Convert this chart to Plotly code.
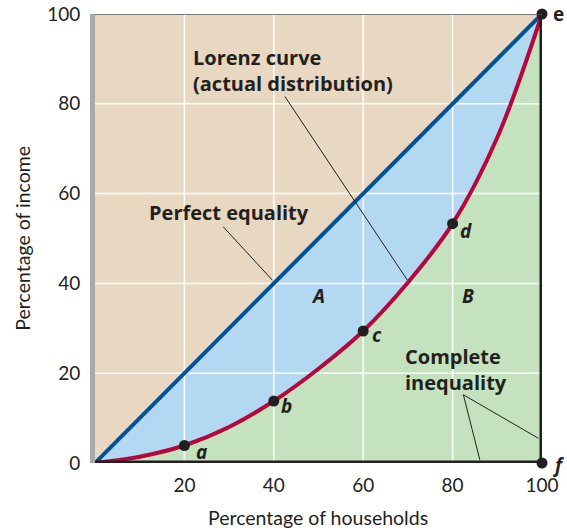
import plotly.graph_objects as go

# ---- data ----
lorenz_x = [0, 10, 20, 30, 40, 50, 60, 70, 80, 90, 100]
lorenz_y = [0, 1.4, 3.9, 8.0, 13.8, 21.0, 29.4, 40.2, 53.3, 72.5, 100]
equality_x = [0, 100]
equality_y = [0, 100]
inequality_x = [0, 100, 100]
inequality_y = [0, 0, 100]
point_x = [20, 40, 60, 80, 100, 100]
point_y = [3.9, 13.8, 29.4, 53.3, 100, 0]
point_labels = ["<b><i>a</i></b>", "<b><i>b</i></b>", "<b><i>c</i></b>", "<b><i>d</i></b>", "<b>e</b>", "<b><i>f</i></b>"]
tick_vals_x = [20, 40, 60, 80, 100]
tick_vals_y = [0, 20, 40, 60, 80, 100]
grid_vals = [20, 40, 60, 80]

TAN = "#e8d7c1"
BLUE_FILL = "#b3d8f1"
GREEN_FILL = "#c5e2bf"
BLUE_LINE = "#00529b"
RED_LINE = "#b5063d"
INK = "#231f20"
FONT = "Lato"
BOLD_FONT = "Open Sans"

fig = go.Figure()

# green area under Lorenz curve
fig.add_trace(go.Scatter(x=lorenz_x, y=lorenz_y, mode="lines", line=dict(width=0, shape="spline"),
                         fill="tozeroy", fillcolor=GREEN_FILL, hoverinfo="skip", showlegend=False))
# diagonal (invisible) then blue fill between it and the curve
fig.add_trace(go.Scatter(x=equality_x, y=equality_y, mode="lines", line=dict(width=0),
                         hoverinfo="skip", showlegend=False))
fig.add_trace(go.Scatter(x=lorenz_x, y=lorenz_y, mode="lines", line=dict(width=0, shape="spline"),
                         fill="tonexty", fillcolor=BLUE_FILL, hoverinfo="skip", showlegend=False))

# grid lines above fills, below lines
gx, gy = [], []
for v in grid_vals:
    gx += [v, v, None]
    gy += [0, 100, None]
for v in grid_vals:
    gx += [0, 100, None]
    gy += [v, v, None]
fig.add_trace(go.Scatter(x=gx, y=gy, mode="lines", line=dict(color="white", width=1.5),
                         hoverinfo="skip", showlegend=False))

# lines
fig.add_trace(go.Scatter(x=equality_x, y=equality_y, mode="lines", line=dict(color=BLUE_LINE, width=4),
                         showlegend=False, cliponaxis=False))
fig.add_trace(go.Scatter(x=lorenz_x, y=lorenz_y, mode="lines", line=dict(color=RED_LINE, width=4, shape="spline"),
                         showlegend=False, cliponaxis=False))
fig.add_trace(go.Scatter(x=inequality_x, y=inequality_y, mode="lines", line=dict(color=INK, width=5),
                         showlegend=False, cliponaxis=False))
fig.add_trace(go.Scatter(x=point_x, y=point_y, mode="markers", marker=dict(color=INK, size=11),
                         showlegend=False, cliponaxis=False))

annotations = []
label_shifts = [(17, -7), (13, -5), (14, -4), (13, -7), (16, 0), (16, -2)]
for px, py, lab, (dx, dy) in zip(point_x, point_y, point_labels, label_shifts):
    annotations.append(dict(x=px, y=py, text=lab, showarrow=False, xshift=dx, yshift=dy,
                            font=dict(family=BOLD_FONT, size=19, color=INK)))

lab_font = dict(family=BOLD_FONT, size=20, color=INK)
annotations += [
    dict(x=21.5, y=87.4, text="<b>Lorenz curve<br>(actual distribution)</b>", showarrow=False,
         xanchor="left", yanchor="middle", align="left", font=lab_font),
    dict(x=11.7, y=55.9, text="<b>Perfect equality</b>", showarrow=False,
         xanchor="left", yanchor="middle", align="left", font=lab_font),
    dict(x=69.0, y=20.8, text="<b>Complete<br>inequality</b>", showarrow=False,
         xanchor="left", yanchor="middle", align="left", font=lab_font),
    dict(x=49.9, y=37.1, text="<b><i>A</i></b>", showarrow=False, font=dict(family=BOLD_FONT, size=19, color=INK)),
    dict(x=83.4, y=37.1, text="<b><i>B</i></b>", showarrow=False, font=dict(family=BOLD_FONT, size=19, color=INK)),
    dict(xref="paper", yref="paper", x=-0.163, y=0.5, xanchor="center", yanchor="middle",
         text="Percentage of income", textangle=-90,
         showarrow=False, font=dict(family=FONT, size=19.5, color=INK)),
    dict(xref="paper", yref="paper", x=0.499, y=0, xanchor="center", yanchor="middle", yshift=-54,
         text="Percentage of households",
         showarrow=False, font=dict(family=FONT, size=19.5, color=INK)),
]

leader = dict(color=INK, width=1)
shapes = [
    dict(type="line", x0=42.5, y0=81.6, x1=69.9, y1=40.7, line=leader),
    dict(type="line", x0=28.7, y0=52.6, x1=39.7, y1=40.7, line=leader),
    dict(type="line", x0=82.4, y0=15.2, x1=99.2, y1=5.5, line=leader),
    dict(type="line", x0=82.4, y0=15.2, x1=86.1, y1=0.7, line=leader),
    dict(type="line", x0=0, y0=100, x1=100, y1=100, line=dict(color="#58595b", width=1.5)),
]

fig.update_layout(
    width=567, height=528,
    margin=dict(l=95, r=25, t=14, b=65),
    paper_bgcolor="white", plot_bgcolor=TAN,
    annotations=annotations, shapes=shapes,
    xaxis=dict(range=[0, 100], tickvals=tick_vals_x, showgrid=False, zeroline=False,
               showline=False, ticks="", tickfont=dict(family=FONT, size=19, color=INK),
               ticklabelstandoff=9, automargin=False, ticklabeloverflow="allow", fixedrange=True),
    yaxis=dict(range=[0, 100], tickvals=tick_vals_y, showgrid=False, zeroline=False,
               showline=True, linecolor="#a7a9ac", linewidth=5, ticks="",
               tickfont=dict(family=FONT, size=19, color=INK), ticklabelstandoff=6,
               automargin=False, ticklabeloverflow="allow", fixedrange=True),
)

fig.write_html("out.html", config={"displayModeBar": False},
               post_script="document.body.style.margin='0';document.body.style.overflow='hidden';")
